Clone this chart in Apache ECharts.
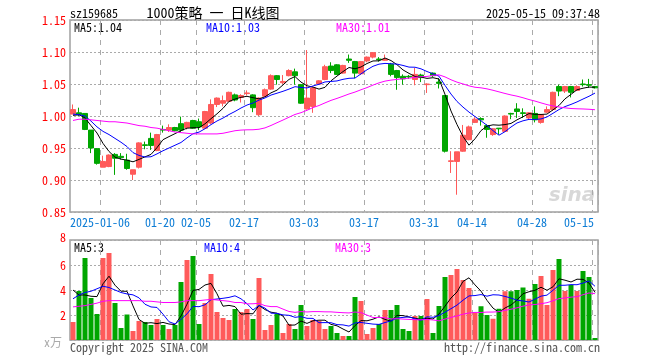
<!DOCTYPE html>
<html>
<head>
<meta charset="utf-8">
<script src="https://cdn.jsdelivr.net/npm/echarts@6/dist/echarts.min.js"></script>
<style>
html,body{margin:0;padding:0;background:#fff;}
#chart{width:660px;height:360px;}
</style>
</head>
<body>
<div id="chart"></div>
<script>
// ---------- data ----------
const dates = [
'2024-12-27','2024-12-30','2024-12-31',
'2025-01-02','2025-01-03','2025-01-06','2025-01-07','2025-01-08','2025-01-09','2025-01-10',
'2025-01-13','2025-01-14','2025-01-15','2025-01-16','2025-01-17','2025-01-20','2025-01-21',
'2025-01-22','2025-01-23','2025-01-24','2025-01-27',
'2025-02-05','2025-02-06','2025-02-07','2025-02-10','2025-02-11','2025-02-12','2025-02-13',
'2025-02-14','2025-02-17','2025-02-18','2025-02-19','2025-02-20','2025-02-21','2025-02-24',
'2025-02-25','2025-02-26','2025-02-27','2025-02-28',
'2025-03-03','2025-03-04','2025-03-05','2025-03-06','2025-03-07','2025-03-10','2025-03-11',
'2025-03-12','2025-03-13','2025-03-14','2025-03-17','2025-03-18','2025-03-19','2025-03-20',
'2025-03-21','2025-03-24','2025-03-25','2025-03-26','2025-03-27','2025-03-28','2025-03-31',
'2025-04-01','2025-04-02','2025-04-07','2025-04-08','2025-04-09','2025-04-10','2025-04-11',
'2025-04-14','2025-04-15','2025-04-16','2025-04-17','2025-04-18','2025-04-21','2025-04-22',
'2025-04-23','2025-04-24','2025-04-25','2025-04-28','2025-04-29','2025-04-30',
'2025-05-06','2025-05-07','2025-05-08','2025-05-09','2025-05-12','2025-05-13','2025-05-14','2025-05-15'
];
const opens = [
1.003,1.005,1.004,0.978,0.949,0.920,0.921,0.940,0.937,0.931,
0.909,0.920,0.955,0.965,0.946,0.979,0.978,0.982,0.988,0.982,
0.993,0.991,0.981,0.989,1.018,1.020,1.023,1.033,1.029,1.035,
1.033,1.002,1.031,1.042,1.063,1.052,1.063,1.069,1.049,1.011,
1.015,1.050,1.057,1.078,1.080,1.067,1.089,1.085,1.066,1.086,
1.092,1.089,1.087,1.081,1.071,1.062,1.062,1.057,1.064,1.049,
1.067,1.053,1.032,0.929,0.929,0.945,0.963,0.990,0.996,0.985,
0.971,0.981,0.976,1.004,1.011,1.005,0.997,1.004,0.990,1.006,
1.010,1.046,1.039,1.046,1.040,1.050,1.049,1.046
];
const closes = [
1.010,1.002,0.979,0.950,0.926,0.929,0.939,0.934,0.935,0.918,
0.916,0.958,0.954,0.954,0.971,0.978,0.982,0.977,0.978,0.990,
0.981,0.983,1.007,1.018,1.028,1.024,1.037,1.025,1.032,1.036,
1.013,1.028,1.041,1.063,1.057,1.054,1.071,1.063,1.020,1.028,
1.044,1.055,1.077,1.071,1.065,1.079,1.087,1.067,1.085,1.092,
1.099,1.088,1.089,1.065,1.060,1.058,1.061,1.065,1.060,1.050,
1.063,1.051,0.945,0.930,0.944,0.970,0.983,0.995,0.994,0.979,
0.980,0.980,1.000,1.003,1.007,1.004,1.005,0.994,1.002,1.010,
1.037,1.039,1.046,1.037,1.046,1.049,1.048,1.044
];
const lows = [
1.003,1.000,0.978,0.942,0.924,0.920,0.920,0.908,0.932,0.916,
0.900,0.918,0.948,0.947,0.945,0.974,0.975,0.976,0.975,0.979,
0.980,0.978,0.980,0.987,1.014,1.015,1.022,1.023,1.021,1.032,
1.006,1.000,1.030,1.041,1.049,1.050,1.062,1.049,1.019,1.010,
1.005,1.049,1.056,1.067,1.064,1.066,1.083,1.059,1.064,1.084,
1.090,1.085,1.086,1.062,1.041,1.049,1.058,1.048,1.053,1.036,
1.061,1.043,0.943,0.911,0.877,0.944,0.962,0.989,0.985,0.966,
0.969,0.971,0.975,0.995,0.997,0.997,0.995,0.990,0.988,1.005,
1.008,1.031,1.036,1.029,1.039,1.046,1.044,1.043
];
const highs = [
1.018,1.013,1.004,0.978,0.950,0.938,0.940,0.942,0.942,0.941,
0.916,0.959,0.960,0.974,0.972,0.985,0.987,0.983,0.999,0.991,
0.994,0.996,1.008,1.026,1.029,1.032,1.038,1.035,1.034,1.040,
1.034,1.029,1.043,1.065,1.064,1.064,1.073,1.074,1.050,1.103,
1.046,1.056,1.080,1.084,1.081,1.080,1.096,1.086,1.086,1.093,
1.100,1.092,1.096,1.083,1.072,1.065,1.064,1.075,1.066,1.051,
1.068,1.059,1.033,0.945,0.944,0.986,0.985,0.998,0.998,0.987,
0.981,0.981,1.001,1.005,1.020,1.012,1.006,1.015,1.003,1.015,
1.038,1.049,1.047,1.047,1.048,1.057,1.058,1.047
];
const volumes = [
1.44,3.92,6.56,3.36,2.08,6.56,6.96,2.96,0.96,2.04,
0.72,1.52,1.44,1.20,1.68,1.20,0.88,1.20,4.64,6.40,
6.72,1.28,2.96,5.28,2.24,1.76,1.60,2.48,2.24,2.48,
1.68,4.96,0.80,1.20,2.08,0.56,1.28,0.88,2.80,1.12,
1.60,1.52,0.88,1.12,0.56,0.32,0.32,3.44,3.12,0.48,
0.96,1.28,2.40,2.40,2.80,0.88,0.72,1.92,1.92,3.28,
0.56,2.72,5.04,5.20,5.68,4.80,4.16,2.20,2.70,2.00,
1.70,2.50,3.90,3.90,4.00,4.20,3.30,4.48,5.12,2.80,
5.60,6.48,3.92,4.40,3.92,5.52,5.04,0.16
];
// moving-average values before the window is full
const priceMa5Head  = [1.001,1.002,0.997,0.985];
const priceMa10Head = [1.003,1.002,1.000,0.992,0.983,0.976,0.971,0.965,0.959];
const priceMa30Head = [0.993,0.995,0.995,0.994,0.993,0.992,0.991,0.991,0.990,0.989,
                       0.987,0.985,0.984,0.982,0.981,0.979,0.977,0.975,0.974,0.973,
                       0.972,0.972,0.972,0.972,0.972,0.973,0.975,0.977,0.978];
const volMa5Head  = [4.0,3.6,3.6,3.5];
const volMa10Head = [3.3,3.6,3.8,3.9,4.1,4.3,4.2,4.0,3.8];
const volMa30Head = [2.65,2.7,2.75,2.85,2.95,3.1,3.15,3.15,3.15,3.15,
                     3.15,3.15,3.1,3.1,3.05,3.0,3.0,3.0,3.05,3.15,
                     3.15,3.15,3.2,3.25,3.2,3.15,3.1,3.0,3.0];
const tickDates  = ['2025-01-06','2025-01-20','2025-02-05','2025-02-17','2025-03-03',
                    '2025-03-17','2025-03-31','2025-04-14','2025-04-28','2025-05-15'];
const tickLabels = ['2025-01-06','01-20','02-05','02-17','03-03','03-17','03-31','04-14','04-28','05-15'];
const priceLegend = ['1.04','1.03','1.01'];
const volLegend = ['3','4','3'];

// ---------- build ----------
const UP = '#ff5a5a', DOWN = '#00a600';
const MONO = '"Noto Sans Mono CJK SC","DejaVu Sans Mono",monospace';
function movingAvg(vals, n, head) {
  return vals.map((v, i) => {
    if (i < n - 1) return head[i];
    let s = 0;
    for (let j = i - n + 1; j <= i; j++) s += vals[j];
    return +(s / n).toFixed(4);
  });
}
const kdata = dates.map((d, i) => [opens[i], closes[i], lows[i], highs[i]]);
const vdata = volumes.map((v, i) => ({value: v, itemStyle: {color: closes[i] > opens[i] ? UP : DOWN}}));
const tickSet = new Set(tickDates);
const isTick = (idx, val) => tickSet.has(val);

const chart = echarts.init(document.getElementById('chart'), null, {renderer: 'canvas'});
const splitX = {show: true, interval: isTick, lineStyle: {color: '#aaaaaa', type: [5, 5], width: 1}};
const splitY = {show: true, lineStyle: {color: '#aaaaaa', type: [2, 2], width: 1}};
const lineS = (name, data, color, xi, yi) => ({
  name, type: 'line', data, xAxisIndex: xi, yAxisIndex: yi, symbol: 'none', smooth: false,
  lineStyle: {color, width: 1}, silent: true, z: 3
});
const txt = (x, y, text, color, extra) => ({
  type: 'text', x, y, style: Object.assign({text, fill: color, font: '12px ' + MONO, textVerticalAlign: 'middle'}, extra || {})
});

chart.setOption({
  animation: false,
  backgroundColor: '#fff',
  grid: [
    {left: 70, top: 20, width: 528, height: 192, show: true, borderColor: '#a0a0a0', borderWidth: 1.5},
    {left: 70, top: 240, width: 528, height: 100, show: true, borderColor: '#a0a0a0', borderWidth: 1.5}
  ],
  xAxis: [
    {type: 'category', gridIndex: 0, data: dates, boundaryGap: true,
     axisLine: {show: false}, axisTick: {show: false}, splitLine: splitX,
     axisLabel: {interval: isTick, margin: 4, color: '#0c7cd5', fontFamily: MONO, fontSize: 12,
       formatter: (v) => {
         const i = tickDates.indexOf(v);
         if (i < 0) return '';
         return (i === tickDates.length - 1 ? '{e|' : '{a|') + tickLabels[i] + '}';
       },
       rich: {a: {padding: [0, 6, 0, 0], color: '#0c7cd5', fontFamily: MONO, fontSize: 12},
              e: {padding: [0, 32, 0, 0], color: '#0c7cd5', fontFamily: MONO, fontSize: 12}}}},
    {type: 'category', gridIndex: 1, data: dates, boundaryGap: true,
     axisLine: {show: false}, axisTick: {show: false}, axisLabel: {show: false}, splitLine: splitX}
  ],
  yAxis: [
    {type: 'value', gridIndex: 0, min: 0.85, max: 1.15, interval: 0.05, scale: true,
     axisLine: {show: false}, axisTick: {show: false}, splitLine: splitY,
     axisLabel: {color: '#ff0000', margin: 4, fontFamily: MONO, fontSize: 12, formatter: (v) => v.toFixed(2)}},
    {type: 'value', gridIndex: 1, min: 0, max: 8, interval: 2,
     axisLine: {show: false}, axisTick: {show: false}, splitLine: splitY,
     axisLabel: {color: '#ff0000', margin: 4, fontFamily: MONO, fontSize: 12,
       formatter: (v) => v === 0 ? '' : (v === 8 ? '{t|8}' : String(v)),
       rich: {t: {padding: [0, 0, 5, 0], color: '#ff0000', fontFamily: MONO, fontSize: 12}}}}
  ],
  series: [
    {type: 'candlestick', data: kdata, xAxisIndex: 0, yAxisIndex: 0, barWidth: 5,
     itemStyle: {color: UP, color0: DOWN, borderColor: UP, borderColor0: DOWN, borderWidth: 1}, silent: true},
    lineS('MA5', movingAvg(closes, 5, priceMa5Head), '#000000', 0, 0),
    lineS('MA10', movingAvg(closes, 10, priceMa10Head), '#0000ff', 0, 0),
    lineS('MA30', movingAvg(closes, 30, priceMa30Head), '#ff00ff', 0, 0),
    {type: 'bar', data: vdata, xAxisIndex: 1, yAxisIndex: 1, barWidth: 5, silent: true},
    lineS('VMA5', movingAvg(volumes, 5, volMa5Head), '#000000', 1, 1),
    lineS('VMA10', movingAvg(volumes, 10, volMa10Head), '#0000ff', 1, 1),
    lineS('VMA30', movingAvg(volumes, 30, volMa30Head), '#ff00ff', 1, 1)
  ],
  graphic: [
    txt(70, 13, 'sz159685', '#000'),
    txt(213, 13, '1000策略 一 日K线图', '#000', {font: '14px "Noto Sans Mono CJK SC","Noto Sans CJK SC",sans-serif', textAlign: 'center'}),
    txt(600, 13, '2025-05-15 09:37:48', '#000', {textAlign: 'right'}),
    txt(74, 27, 'MA5:' + priceLegend[0], '#000'),
    txt(206, 27, 'MA10:' + priceLegend[1], '#0000ff'),
    txt(336, 27, 'MA30:' + priceLegend[2], '#ff00ff'),
    txt(74, 247, 'MA5:' + volLegend[0], '#000'),
    txt(204, 247, 'MA10:' + volLegend[1], '#0000ff'),
    txt(335, 247, 'MA30:' + volLegend[2], '#ff00ff'),
    txt(62, 342, 'x万', '#aaaaaa', {textAlign: 'right'}),
    txt(70, 347, 'Copyright 2025 SINA.COM', '#555555'),
    txt(600, 347, 'http://finance.sina.com.cn', '#555555', {textAlign: 'right'}),
    txt(572, 196, 'sina', '#d8d8d8', {font: 'italic bold 20px "DejaVu Sans",sans-serif', textAlign: 'center'})
  ]
});
</script>
</body>
</html>
